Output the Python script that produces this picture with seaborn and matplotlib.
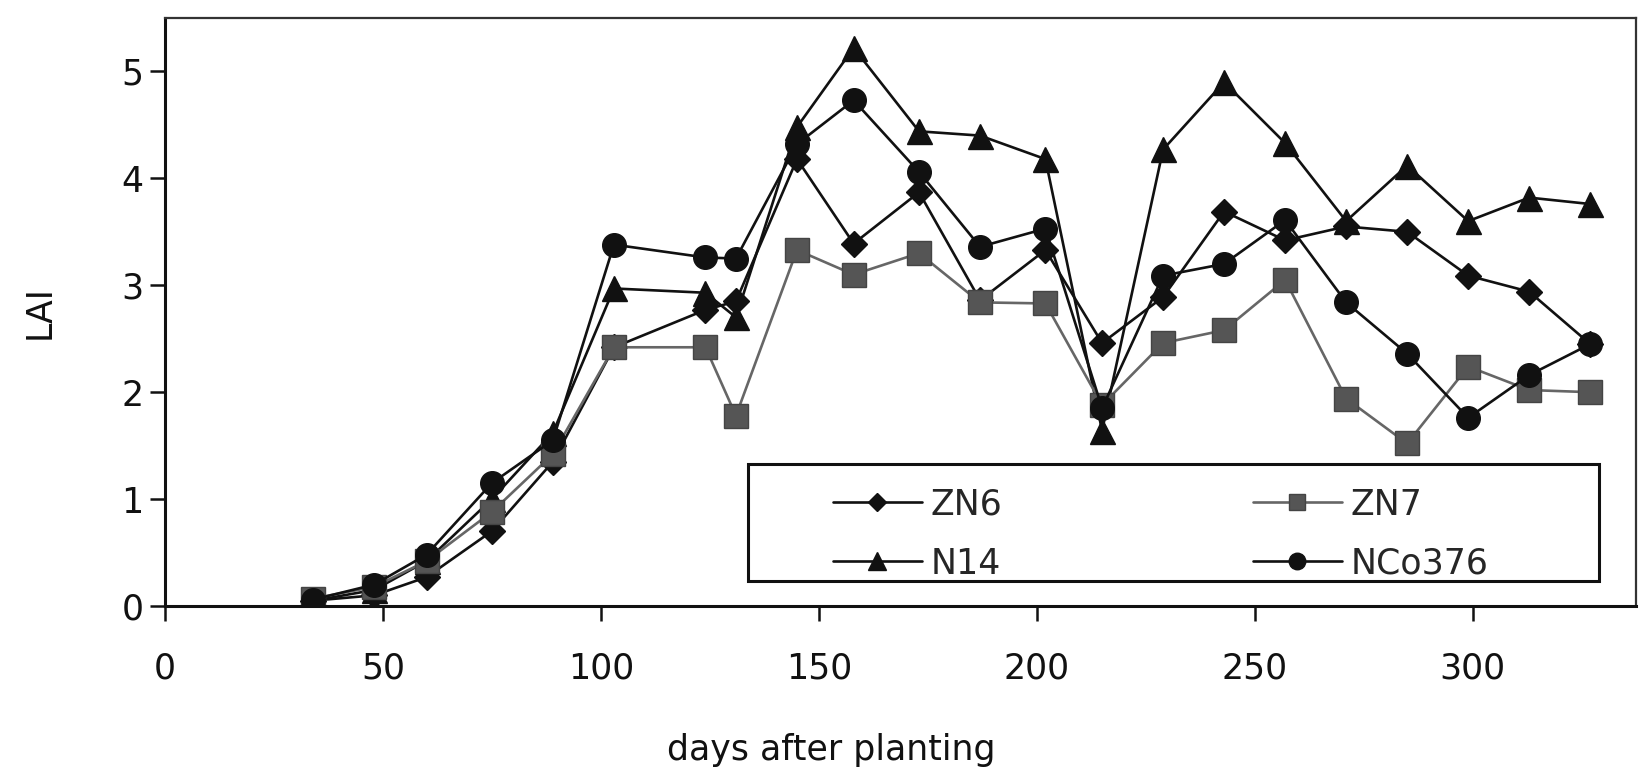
import matplotlib
matplotlib.use("Agg")
import matplotlib.pyplot as plt
import matplotlib.patches as mpatches
import seaborn as sns

# ---- data ----
days = [34, 48, 60, 75, 89, 103, 124, 131, 145, 158, 173, 187, 202, 215,
        229, 243, 257, 271, 285, 299, 313, 327]
zn6 = [0.05, 0.10, 0.27, 0.70, 1.35, 2.42, 2.77, 2.85, 4.18, 3.39, 3.87,
       2.86, 3.33, 2.46, 2.89, 3.69, 3.42, 3.55, 3.50, 3.09, 2.94, 2.45]
n14 = [0.05, 0.15, 0.42, 1.00, 1.62, 2.97, 2.93, 2.70, 4.48, 5.22, 4.44,
       4.40, 4.18, 1.64, 4.27, 4.90, 4.33, 3.60, 4.12, 3.60, 3.82, 3.76]
zn7 = [0.07, 0.18, 0.42, 0.88, 1.42, 2.42, 2.42, 1.78, 3.33, 3.10, 3.30,
       2.84, 2.83, 1.88, 2.46, 2.58, 3.05, 1.94, 1.52, 2.24, 2.02, 2.00]
nco376 = [0.06, 0.20, 0.48, 1.15, 1.55, 3.38, 3.26, 3.25, 4.32, 4.73, 4.06,
          3.36, 3.53, 1.85, 3.09, 3.20, 3.61, 2.84, 2.36, 1.76, 2.16, 2.45]
x_ticks = [0, 50, 100, 150, 200, 250, 300]
y_ticks = [0, 1, 2, 3, 4, 5]
x_label = "days after planting"
y_label = "LAI"

sns.set_style("ticks")
plt.rcParams["font.family"] = ["DejaVu Sans"]
FS = 25

fig = plt.figure(figsize=(16.39, 7.69), dpi=100)
ax = fig.add_axes([165 / 1639, 1 - 606 / 769, 1471 / 1639, 588 / 769])

common = dict(ax=ax, linewidth=1.9, sort=False)
sns.lineplot(x=days, y=zn6, color="#111111", marker="D", markersize=13,
             markeredgecolor="#111111", markeredgewidth=1, label="ZN6", **common)
sns.lineplot(x=days, y=n14, color="#111111", marker="^", markersize=18,
             markeredgecolor="#111111", markeredgewidth=1, label="N14", **common)
sns.lineplot(x=days, y=zn7, color="#666666", marker="s", markersize=17,
             markerfacecolor="#555555", markeredgecolor="#444444",
             markeredgewidth=1, label="ZN7", **common)
sns.lineplot(x=days, y=nco376, color="#111111", marker="o", markersize=17,
             markeredgecolor="#111111", markeredgewidth=1, label="NCo376", **common)

ax.set_xlim(0, 337.5)
ax.set_ylim(0, 5.5)
ax.set_xticks(x_ticks)
ax.set_yticks(y_ticks)
ax.tick_params(axis="both", direction="out", length=10.5, width=1.8,
               labelsize=FS, colors="#111111")
ax.tick_params(axis="y", pad=5)
ax.tick_params(axis="x", pad=22)

for s in ["left", "bottom"]:
    ax.spines[s].set_linewidth(2.2)
    ax.spines[s].set_color("#111111")
for s in ["top", "right"]:
    ax.spines[s].set_linewidth(1.6)
    ax.spines[s].set_color("#333333")

ax.set_xlabel(x_label, fontsize=FS, color="#111111")
ax.set_ylabel(y_label, fontsize=FS, color="#111111")
ax.xaxis.set_label_coords(0.4527, -0.216)
ax.yaxis.set_label_coords(-0.074, 0.5)

# legend (frame drawn as a rectangle)
frame = mpatches.Rectangle((0.3963, 0.0425), 0.5785, 0.199,
                           transform=ax.transAxes, facecolor="white",
                           edgecolor="#111111", linewidth=2.2, zorder=5)
ax.add_patch(frame)
handles, labels = ax.get_legend_handles_labels()
leg = ax.legend(handles, labels, ncol=2, frameon=False, loc="center left",
                bbox_to_anchor=(0.4541, 0.1224), borderpad=0, borderaxespad=0,
                handlelength=2.56, handletextpad=0.26, columnspacing=7.2,
                labelspacing=0.72, markerscale=0.7, fontsize=FS)
leg.set_zorder(6)

fig.savefig("out.png", dpi=100, facecolor="white")
